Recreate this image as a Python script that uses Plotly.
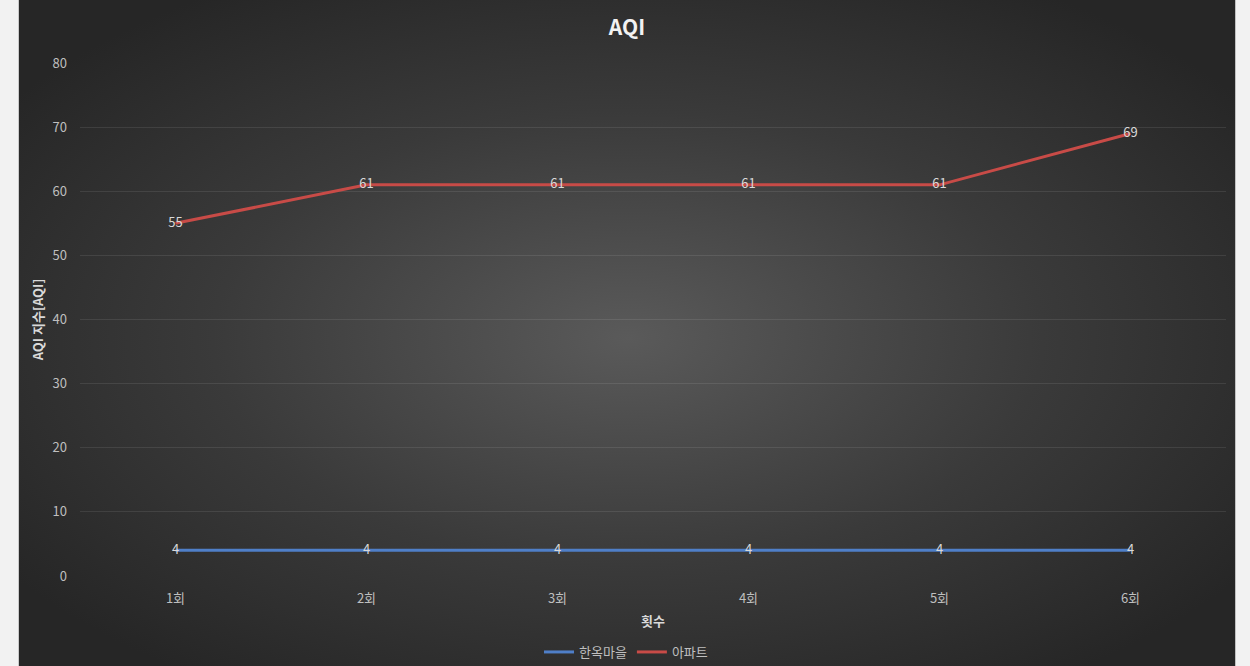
import base64
import plotly.graph_objects as go

categories = ["1회", "2회", "3회", "4회", "5회", "6회"]
hanok = [4, 4, 4, 4, 4, 4]
apt = [55, 61, 61, 61, 61, 69]
series_names = ["한옥마을", "아파트"]
y_ticks = [0, 10, 20, 30, 40, 50, 60, 70, 80]

W, H = 1250, 666
L, R, T, B = 79.5, 23.5, 63, 90
pw, ph = W - L - R, H - T - B

svg = f'''<svg xmlns="http://www.w3.org/2000/svg" width="1218" height="666" viewBox="0 0 1218 666" preserveAspectRatio="none">
<defs><radialGradient id="g" cx="{(628-18)/1218:.4f}" cy="{338/666:.4f}" r="0.62" fx="{(628-18)/1218:.4f}" fy="{338/666:.4f}">
<stop offset="0" stop-color="#5a5a5a"/><stop offset="0.55" stop-color="#3a3a3a"/><stop offset="1" stop-color="#262626"/></radialGradient></defs>
<rect x="0" y="0" width="1218" height="666" fill="url(#g)"/></svg>'''
src = "data:image/svg+xml;base64," + base64.b64encode(svg.encode()).decode()

font = "Noto Sans CJK KR, Open Sans, sans-serif"

fig = go.Figure()
fig.add_trace(go.Scatter(
    x=categories, y=hanok, name=series_names[0], mode="lines+text",
    text=[str(v) for v in hanok], textposition="middle center",
    textfont=dict(color="#d9d9d9", size=13),
    line=dict(color="#4f7fc8", width=3)))
fig.add_trace(go.Scatter(
    x=categories, y=apt, name=series_names[1], mode="lines+text",
    text=[str(v) for v in apt], textposition="middle center",
    textfont=dict(color="#d9d9d9", size=13),
    line=dict(color="#c84b47", width=3)))

fig.add_layout_image(dict(
    source=src, xref="paper", yref="paper",
    x=(18 - L) / pw, y=(H - B) / ph,
    sizex=1218 / pw, sizey=H / ph,
    xanchor="left", yanchor="top", sizing="stretch", layer="below"))

fig.update_layout(
    width=W, height=H,
    margin=dict(l=L, r=R, t=T, b=B, autoexpand=False),
    paper_bgcolor="#f2f2f2", plot_bgcolor="rgba(0,0,0,0)",
    font=dict(family=font, color="#bfbfbf", size=13),
    title=dict(text="<b>AQI</b>", x=627 / W, xanchor="center",
               y=1 - 28 / H, yanchor="middle",
               font=dict(size=21, color="#f2f2f2", family=font)),
    showlegend=True,
    legend=dict(orientation="h", x=(626 - L) / pw, xanchor="center",
                y=-(652 - (H - B)) / ph, yanchor="middle",
                font=dict(size=13, color="#bfbfbf"), itemwidth=30,
                bgcolor="rgba(0,0,0,0)", tracegroupgap=0),
    xaxis=dict(range=[-0.5, 5.5], showgrid=False, zeroline=False,
               showline=False, ticks="", tickfont=dict(size=13, color="#bfbfbf"),
               automargin=False, ticklabelstandoff=13,
               title=dict(text="<b>횟수</b>", font=dict(size=13, color="#d9d9d9"), standoff=10)),
    yaxis=dict(range=[0, 80], tickvals=y_ticks, showgrid=True,
               gridcolor="rgba(255,255,255,0.09)", gridwidth=1,
               zeroline=False, showline=False, ticks="", automargin=False,
               tickfont=dict(size=13, color="#bfbfbf"), ticklabelstandoff=12,
               title=dict(text="<b>AQI 지수[AQI]</b>", font=dict(size=13, color="#d9d9d9"), standoff=6)),
)
fig.write_html("out.html", config={"displayModeBar": False},
               post_script="document.body.style.margin='0';document.body.style.background='#f2f2f2';")
